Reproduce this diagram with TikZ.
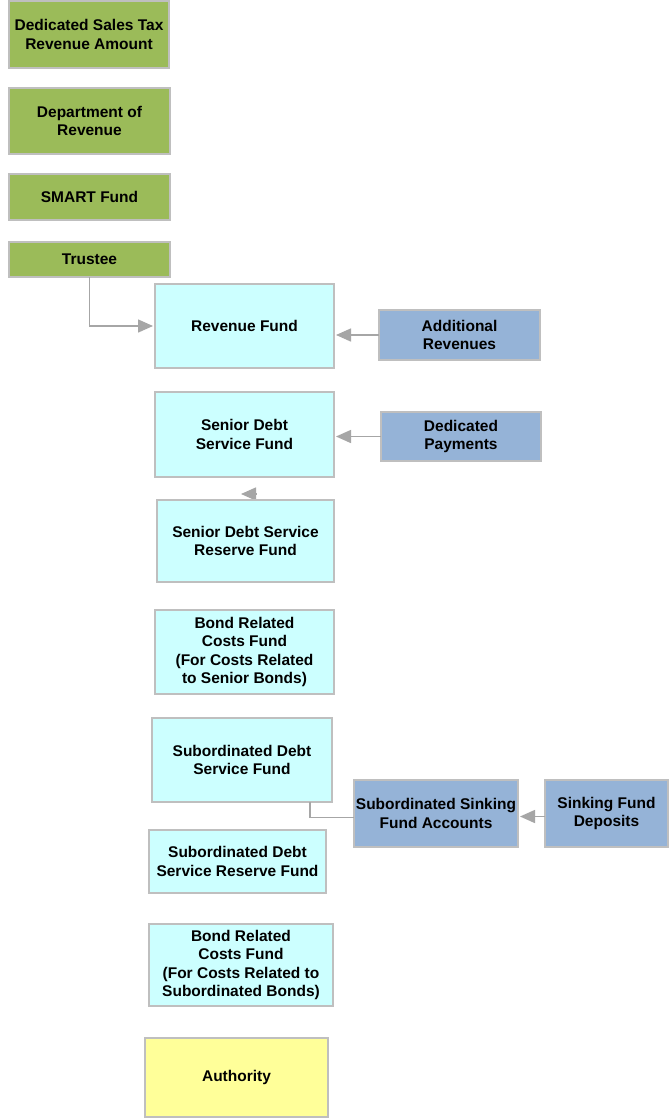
\documentclass[tikz,border=0pt]{standalone}
\usepackage{fontspec}
\setmainfont{Liberation Sans}
\usetikzlibrary{arrows.meta}
\definecolor{grn}{HTML}{9BBB59}
\definecolor{cyn}{HTML}{CCFFFF}
\definecolor{blu}{HTML}{95B3D7}
\definecolor{ylw}{HTML}{FFFF99}
\definecolor{bord}{HTML}{BFBFBF}
\definecolor{arrgray}{HTML}{A6A6A6}
\tikzset{
  box/.style={draw=bord, line width=1.5pt, inner sep=0pt, outer sep=0pt, align=center,
    font=\fontsize{15.5}{18.5}\selectfont\bfseries, text=black},
  gbox/.style={box, fill=grn},
  cbox/.style={box, fill=cyn},
  bbox/.style={box, fill=blu},
  ybox/.style={box, fill=ylw},
  arr/.style={draw=arrgray, line width=1.5pt, -{Triangle[length=15pt,width=13pt]}, shorten >=2pt},
  plain/.style={draw=arrgray, line width=1.5pt},
}
\begin{document}
\begin{tikzpicture}[x=1pt,y=-1pt]
\useasboundingbox (0,0) rectangle (669,1120);
\fill[white] (0,0) rectangle (669,1120);
\coordinate (tipA) at (256,494);
\coordinate (tipB) at (239,494);
\draw[arr] (tipA) -- (tipB);
\node[gbox, minimum width=160pt, minimum height=67pt] (dst) at (89,34.5) {Dedicated Sales Tax\\Revenue Amount};
\node[gbox, minimum width=161pt, minimum height=66pt] (dor) at (89.5,121) {Department of\\Revenue};
\node[gbox, minimum width=161pt, minimum height=46pt] (smart) at (89.5,197) {SMART Fund};
\node[gbox, minimum width=161pt, minimum height=35pt] (trustee) at (89.5,259.5) {Trustee};
\node[cbox, minimum width=179pt, minimum height=84pt] (revfund) at (244.5,326) {Revenue Fund};
\node[bbox, minimum width=161pt, minimum height=50pt] (addrev) at (459.5,335) {Additional\\Revenues};
\node[cbox, minimum width=179pt, minimum height=85pt] (sdsf) at (244.5,434.5) {Senior Debt\\Service Fund};
\node[bbox, minimum width=160pt, minimum height=49pt] (dedpay) at (461,436.5) {Dedicated\\Payments};
\node[cbox, minimum width=177pt, minimum height=82pt] (sdsrf) at (245.5,541) {Senior Debt Service\\Reserve Fund};
\node[cbox, minimum width=179pt, minimum height=84pt] (brcf1) at (244.5,652) {Bond Related\\Costs Fund\\(For Costs Related\\to Senior Bonds)};
\node[cbox, minimum width=180pt, minimum height=84pt] (subdsf) at (242,760) {Subordinated Debt\\Service Fund};
\node[bbox, minimum width=164pt, minimum height=67pt] (ssfa) at (436,813.5) {Subordinated Sinking\\Fund Accounts};
\node[bbox, minimum width=123pt, minimum height=67pt] (sfd) at (606.5,813.5) {Sinking Fund\\Deposits};
\node[cbox, minimum width=177pt, minimum height=63pt] (subdsrf) at (237.5,861.5) {Subordinated Debt\\Service Reserve Fund};
\node[cbox, minimum width=184pt, minimum height=82pt] (brcf2) at (241,965) {Bond Related\\Costs Fund\\(For Costs Related to\\Subordinated Bonds)};
\node[ybox, minimum width=183pt, minimum height=79pt] (auth) at (236.5,1077.5) {Authority};

\draw[arr] (trustee.south) |- (revfund.west);
\draw[arr] (addrev.west) -- (revfund.east |- addrev.west);
\draw[arr] (dedpay.west) -- (sdsf.east |- dedpay.west);
\draw[plain] ([yshift=-4pt]ssfa.west) -| ([xshift=68pt]subdsf.south);
\draw[arr] ([yshift=-3pt]sfd.west) -- ([yshift=-3pt]ssfa.east);
\end{tikzpicture}
\end{document}
